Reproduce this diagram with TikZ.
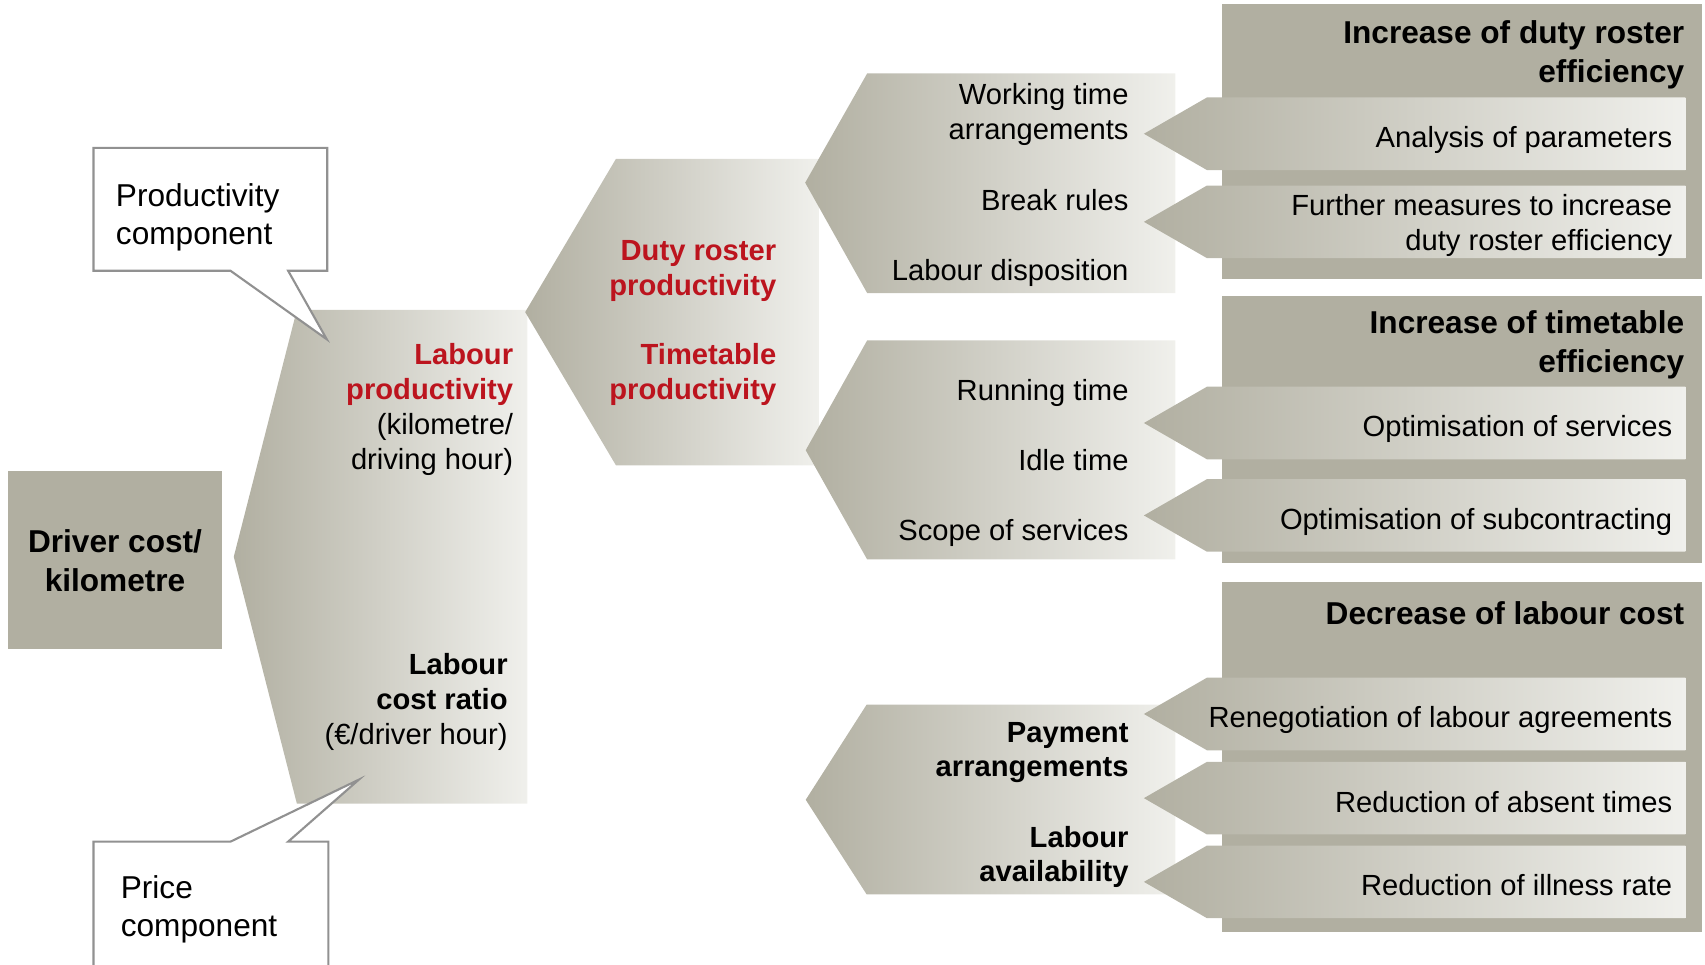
\documentclass[tikz,border=0pt]{standalone}
\usepackage{fontspec}
\setmainfont{Liberation Sans}
\definecolor{panelgray}{RGB}{177,175,161}
\definecolor{chevdark}{RGB}{177,175,161}
\definecolor{chevlight}{RGB}{240,240,236}
\definecolor{bubbleline}{RGB}{145,145,145}
\definecolor{tred}{RGB}{188,20,30}

\begin{document}
\begin{tikzpicture}[
    x=0.010874cm, y=-0.010874cm,
    chev/.style={left color=chevdark, right color=chevlight},
    bubble/.style={draw=bubbleline, line width=0.6pt, fill=white},
    txt/.style={anchor=east, align=right, inner sep=0pt,
                font=\fontsize{8.3}{9.9}\selectfont},
    key/.style={txt, font=\fontsize{8.3}{9.9}\selectfont\bfseries},
    hl/.style={key, text=tred},
    head/.style={txt, font=\fontsize{9}{11.1}\selectfont\bfseries},
    note/.style={anchor=west, align=left, inner sep=0pt,
                 font=\fontsize{9}{10.8}\selectfont}
  ]
  \useasboundingbox (0,0) rectangle (1568,887);

  % cost per kilometre and its two factors
  \node[head, anchor=center, align=center, fill=panelgray,
        minimum width=2.136cm, minimum height=1.778cm] (driver)
    at (105.8,515.3) {Driver cost/\\kilometre};
  \shade[chev] (215,512) -- (273,285) -- (485,285) -- (485,739)
    -- (273,739) -- cycle;
  \shade[chev] (483,287) -- (566.5,146) -- (753,146) -- (753,428)
    -- (566.5,428) -- cycle;

  % levers
  \shade[chev] (740.5,168) -- (797.5,67.5) -- (1081,67.5) -- (1081,269.5)
    -- (797.5,269.5) -- cycle;
  \shade[chev] (741,414) -- (797.5,313) -- (1081,313) -- (1081,514.5)
    -- (797.5,514.5) -- cycle;
  \shade[chev] (741,735.5) -- (797,648) -- (1081,648) -- (1081,822.5)
    -- (797,822.5) -- cycle;

  % measure panels
  \fill[panelgray] (1124,3.7) rectangle (1565,257);
  \fill[panelgray] (1124,272.5) rectangle (1565,517.5);
  \fill[panelgray] (1124,535) rectangle (1565,857);
  \node[head] (dutyeff) at (1549.5,50.8) {Increase of duty roster\\efficiency};
  \node[head] (timeeff) at (1549.5,317.3) {Increase of timetable\\efficiency};
  \node[head] (costdec) at (1549.5,564) {Decrease of labour cost};

  \foreach \yc/\ty/\lbl [count=\i] in {
      123/129/{Analysis of parameters},
      204/207.5/{Further measures to increase\\duty roster efficiency},
      389/394.8/{Optimisation of services},
      474/480/{Optimisation of subcontracting},
      656.6/662/{Renegotiation of labour agreements},
      734/738/{Reduction of absent times},
      811/814/{Reduction of illness rate}} {
    \shade[chev] (1052,\yc) -- (1110,\yc-33.4) -- (1550,\yc-33.4)
      -- (1550,\yc+33.4) -- (1110,\yc+33.4) -- cycle;
    \node[txt] (measure\i) at (1538.5,\ty) {\lbl};
  }

  % callouts
  \draw[bubble] (86,136) -- (301,136) -- (301,249) -- (265,249)
    -- (300.5,312) -- (212,249) -- (86,249) -- cycle;
  \draw[bubble] (86,774) -- (212,774) -- (330,717) -- (265,774)
    -- (302,774) -- (302,910) -- (86,910) -- cycle;
  \node[note] (prodcomp) at (106,199.5) {Productivity\\component};
  \node[note] (pricecomp) at (110.5,836.5) {Price\\component};

  % labels
  \node[hl] (labprod) at (472.5,344.5) {Labour\\productivity};
  \node[txt] (kmunit) at (472.5,409) {(kilometre/\\driving hour)};
  \node[key] (costratio) at (467.5,627) {Labour\\cost ratio};
  \node[txt] (eurunit) at (467.5,678) {(€/driver hour)};
  \node[hl] (dutyprod) at (714.5,249.5) {Duty roster\\productivity};
  \node[hl] (ttprod) at (714.5,344.5) {Timetable\\productivity};
  \node[txt] (worktime) at (1038.5,105.5) {Working time\\arrangements};
  \node[txt] (breaks) at (1038.5,184) {Break rules};
  \node[txt] (dispo) at (1038.5,251) {Labour disposition};
  \node[txt] (running) at (1038.5,361) {Running time};
  \node[txt] (idle) at (1038.5,423) {Idle time};
  \node[txt] (scope) at (1038.5,490.5) {Scope of services};
  \node[key] (payment) at (1038.5,692) {Payment\\arrangements};
  \node[key] (avail) at (1038.5,788) {Labour\\availability};
\end{tikzpicture}
\end{document}
